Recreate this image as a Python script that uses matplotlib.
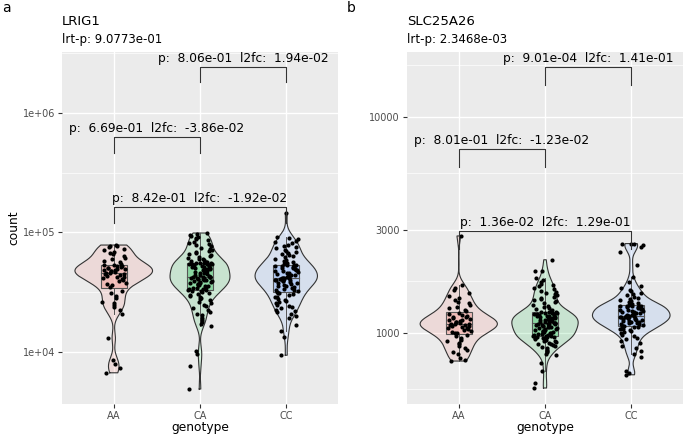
import numpy as np
import matplotlib
matplotlib.use("Agg")
import matplotlib.pyplot as plt
from matplotlib.colors import to_rgba
from matplotlib.patches import Rectangle
from matplotlib.ticker import NullFormatter

genotypes = ["AA", "CA", "CC"]
fills = ["#F8766D", "#00BA38", "#619CFF"]

# LRIG1 counts (thousands)
lrig1_aa = [6.7, 7.3, 7.9, 8.6, 13.1, 20.6, 22.3, 23.8, 24.6, 25.9, 26.4, 28.2, 29.7, 31.3, 32.4,
            35.3, 36.4, 37.2, 38.1, 38.9, 39.8, 40.6, 41.3, 42.1, 42.8, 43.5, 44.0, 44.6, 45.1, 45.5,
            46.2, 46.8, 47.3, 47.9, 48.4, 48.8, 49.3, 49.9, 50.4, 50.9, 51.6, 52.1, 52.7, 53.2, 53.6,
            54.8, 56.3, 57.9, 59.6, 61.4, 63.5, 65.7, 67.2, 68.9, 71.0, 73.4, 75.2, 76.6, 77.8, 78.5]
lrig1_ca = [4.9, 7.7, 9.6, 10.2, 16.4, 17.1, 17.9, 18.6, 19.4, 20.3, 20.9, 21.8, 22.6, 23.5, 24.1,
            24.9, 25.7, 26.3, 27.0, 27.8, 28.4, 29.1, 29.6, 30.2, 30.8, 31.3, 31.7, 32.1, 32.5, 32.8,
            33.1, 33.5, 33.9, 34.2, 34.6, 35.0, 35.4, 35.7, 36.1, 36.5, 36.8, 37.2, 37.6, 38.0, 38.3,
            38.7, 39.1, 39.4, 39.8, 40.1, 40.5, 40.8, 41.1, 41.4, 41.7, 41.9, 42.1, 42.3, 42.4, 42.5,
            42.7, 43.2, 43.7, 44.3, 44.8, 45.4, 45.9, 46.5, 47.0, 47.6, 48.1, 48.7, 49.2, 49.8, 50.3,
            50.9, 51.4, 51.9, 52.4, 52.9, 53.3, 53.7, 54.0, 54.4, 54.7, 55.0, 55.2, 55.4, 55.6, 55.8,
            56.4, 57.1, 57.9, 58.6, 59.5, 60.3, 61.2, 62.4, 63.5, 64.8, 66.1, 67.3, 68.7, 70.2, 71.6,
            73.1, 74.8, 76.5, 78.3, 80.2, 82.1, 84.0, 85.9, 87.8, 89.6, 91.2, 93.0, 95.1, 97.2, 99.0]
lrig1_cc = [9.4, 13.4, 15.0, 16.8, 19.3, 20.1, 20.8, 21.5, 22.1, 22.6, 23.2, 23.8, 24.3, 24.9, 25.6,
            26.2, 26.9, 27.4, 28.0, 28.6, 29.1, 29.8, 30.4, 30.9, 31.3,
            31.7, 32.2, 32.8, 33.3, 33.9, 34.4, 35.0, 35.5, 36.0, 36.6, 37.1, 37.5, 38.0, 38.4, 38.9,
            39.3, 39.7, 40.1, 40.4, 40.7, 40.9, 41.1, 41.3, 41.5, 41.6,
            41.8, 42.3, 42.8, 43.4, 43.9, 44.5, 45.0, 45.6, 46.1, 46.7, 47.2, 47.8, 48.3, 48.9, 49.4,
            50.0, 50.5, 51.0, 51.5, 52.0, 52.4, 52.8, 53.1, 53.4, 53.6,
            54.6, 55.7, 56.9, 58.0, 59.2, 60.5, 61.8, 63.1, 64.4, 65.8, 67.3, 68.8, 70.4, 72.0, 73.7,
            75.5, 77.4, 79.3, 81.3, 83.4, 85.6, 87.7, 89.5, 91.0, 145.0]

# SLC25A26 counts
slc_aa = [741, 752, 768, 795, 812, 834, 851, 868, 884, 901, 917, 932, 948, 963, 979,
          994, 1003, 1013, 1022, 1031, 1040, 1049, 1057, 1065, 1072, 1079, 1085, 1090, 1095, 1099,
          1103, 1110, 1118, 1126, 1134, 1143, 1151, 1160, 1169, 1179, 1189, 1200, 1212, 1225, 1238,
          1258, 1279, 1301, 1323, 1347, 1371, 1396, 1423, 1452, 1489, 1533, 1582, 1621, 1668, 2810]
slc_ca = [556, 586, 663, 725, 788, 801, 813, 826, 837, 848, 858, 867, 876, 884, 892,
          899, 906, 913, 919, 925, 931, 936, 941, 946, 950, 954, 958, 961, 964, 966,
          970, 975, 980, 985, 990, 995, 1000, 1005, 1010, 1015, 1020, 1025, 1030, 1035, 1040,
          1045, 1050, 1055, 1060, 1065, 1070, 1075, 1080, 1085, 1090, 1094, 1098, 1102, 1105, 1108,
          1112, 1117, 1122, 1127, 1132, 1137, 1142, 1147, 1152, 1157, 1162, 1167, 1172, 1177, 1182,
          1187, 1192, 1197, 1202, 1207, 1212, 1217, 1222, 1227, 1231, 1235, 1239, 1243, 1246, 1249,
          1262, 1276, 1291, 1306, 1321, 1337, 1353, 1369, 1385, 1402, 1419, 1436, 1454, 1472, 1491,
          1510, 1530, 1550, 1571, 1593, 1616, 1640, 1665, 1692, 1721, 1753, 1795, 1932, 1941, 2180]
slc_cc = [640, 652, 668, 771, 798, 823, 847, 871, 894, 914, 933, 951, 968, 983, 997,
          1010, 1021, 1031, 1040, 1048, 1055, 1061, 1066, 1071, 1075,
          1080, 1087, 1094, 1101, 1108, 1114, 1120, 1126, 1132, 1138, 1144, 1150, 1156, 1161, 1166,
          1171, 1175, 1179, 1183, 1187, 1190, 1193, 1196, 1198, 1200,
          1204, 1211, 1218, 1225, 1232, 1239, 1246, 1253, 1260, 1267, 1274, 1281, 1288, 1295, 1301,
          1307, 1313, 1318, 1322, 1326, 1329, 1331, 1333, 1335, 1337,
          1346, 1359, 1373, 1388, 1403, 1419, 1436, 1453, 1471, 1490, 1510, 1532, 1556, 1583, 1615,
          1657, 1716, 1820, 2065, 2370, 2490, 2545, 2575, 2580, 2590]

lrig1_tests = ["p:  8.06e-01  l2fc:  1.94e-02", "p:  6.69e-01  l2fc:  -3.86e-02",
               "p:  8.42e-01  l2fc:  -1.92e-02"]
slc_tests = ["p:  9.01e-04  l2fc:  1.41e-01", "p:  8.01e-01  l2fc:  -1.23e-02",
             "p:  1.36e-02  l2fc:  1.29e-01"]


def nrd0(x):
    sd = np.std(x, ddof=1)
    q75, q25 = np.percentile(x, [75, 25])
    return 0.9 * min(sd, (q75 - q25) / 1.34) * len(x) ** -0.2


def draw_groups(ax, groups):
    logs = [np.log10(np.asarray(g, dtype=float)) for g in groups]
    curves = []
    for lg in logs:
        bw = nrd0(lg)
        grid = np.linspace(lg.min(), lg.max(), 512)
        dens = np.exp(-0.5 * ((grid[:, None] - lg[None, :]) / bw) ** 2).sum(1)
        dens /= len(lg) * bw * np.sqrt(2 * np.pi)
        curves.append((grid, dens))
    dmax = max(d.max() for _, d in curves)
    for i, lg in enumerate(logs):
        x0 = i + 1
        grid, dens = curves[i]
        half = 0.45 * dens / dmax
        yy = 10 ** grid
        ax.fill_betweenx(yy, x0 - half, x0 + half, facecolor=to_rgba(fills[i], 0.15),
                         edgecolor="none", zorder=2)
        ax.plot(np.r_[x0 - half, (x0 + half)[::-1], x0 - half[0]],
                np.r_[yy, yy[::-1], yy[0]], color="#333333", lw=0.8, zorder=3)
        q1, med, q3 = np.percentile(lg, [25, 50, 75])
        iqr = q3 - q1
        lo = lg[lg >= q1 - 1.5 * iqr].min()
        hi = lg[lg <= q3 + 1.5 * iqr].max()
        ax.plot([x0, x0], [10 ** q3, 10 ** hi], color="#555555", lw=0.7, zorder=4)
        ax.plot([x0, x0], [10 ** lo, 10 ** q1], color="#555555", lw=0.7, zorder=4)
        ax.add_patch(Rectangle((x0 - 0.15, 10 ** q1), 0.3, 10 ** q3 - 10 ** q1,
                               facecolor=to_rgba(fills[i], 0.3), edgecolor="#555555",
                               lw=0.8, zorder=4))
        ax.plot([x0 - 0.15, x0 + 0.15], [10 ** med, 10 ** med], color="#555555", lw=0.8, zorder=4)
        n = len(lg)
        idx = np.arange(n)
        jit = (np.sin(idx * 12.9898 + x0 * 78.233) * 43758.5453) % 1.0
        ax.scatter(x0 + (jit - 0.5) * 0.28, 10 ** lg, s=9, c="black", linewidths=0, zorder=5)


def bracket(ax, x1, x2, y, leg, text):
    ax.plot([x1, x1, x2, x2], [10 ** leg, 10 ** y, 10 ** y, 10 ** leg],
            color="#333333", lw=0.8, zorder=6)
    ax.annotate(text, xy=((x1 + x2) / 2, 10 ** y), xytext=(0, 1.5),
                textcoords="offset points", ha="center", va="bottom", fontsize=8.8, zorder=7)


def style(ax, ylo, yhi, majors, labels, minors):
    ax.set_facecolor("#EBEBEB")
    for s in ax.spines.values():
        s.set_visible(False)
    ax.set_yscale("log")
    ax.set_ylim(10 ** ylo, 10 ** yhi)
    ax.set_xlim(0.4, 3.6)
    ax.set_xticks([1, 2, 3], genotypes)
    ax.set_yticks(majors, labels)
    ax.set_yticks(minors, minor=True)
    ax.yaxis.set_minor_formatter(NullFormatter())
    ax.tick_params(which="major", length=3, width=0.8, color="#333333",
                   labelcolor="#4D4D4D", labelsize=7, pad=2)
    ax.tick_params(which="minor", length=0)
    ax.grid(which="major", color="white", lw=1.0)
    ax.grid(which="minor", axis="y", color="white", lw=0.5)
    ax.set_axisbelow(True)


fig = plt.figure(figsize=(6.85, 4.37), dpi=100)
W, H = 685, 437
axa = fig.add_axes([62 / W, 1 - 404 / H, 276 / W, 352 / H])
axb = fig.add_axes([407 / W, 1 - 404 / H, 276 / W, 352 / H])

style(axa, 3.565, 6.51, [1e4, 1e5, 1e6], ["1e+04", "1e+05", "1e+06"],
      [10 ** 4.5, 10 ** 5.5, 10 ** 6.5])
style(axb, 2.671, 4.30, [1000, 3000, 10000], ["1000", "3000", "10000"],
      [10 ** 2.739, 10 ** 3.239, 10 ** 3.739, 10 ** 4.239])

draw_groups(axa, [np.array(lrig1_aa) * 1000, np.array(lrig1_ca) * 1000,
                  np.array(lrig1_cc) * 1000])
draw_groups(axb, [slc_aa, slc_ca, slc_cc])

bracket(axa, 2, 3, 6.385, 6.259, lrig1_tests[0])
bracket(axa, 1, 2, 5.799, 5.665, lrig1_tests[1])
bracket(axa, 1, 3, 5.213, 5.079, lrig1_tests[2])
bracket(axb, 2, 3, 4.231, 4.148, slc_tests[0])
bracket(axb, 1, 2, 3.852, 3.768, slc_tests[1])
bracket(axb, 1, 3, 3.472, 3.389, slc_tests[2])

fig.text(62 / W, 1 - 25 / H, "LRIG1", fontsize=9.5, va="baseline")
fig.text(62 / W, 1 - 42.5 / H, "lrt-p: 9.0773e-01", fontsize=8.5, va="baseline")
fig.text(407 / W, 1 - 25 / H, "SLC25A26", fontsize=9.5, va="baseline")
fig.text(407 / W, 1 - 42.5 / H, "lrt-p: 2.3468e-03", fontsize=8.5, va="baseline")
fig.text(2 / W, 1 - 12 / H, "a", fontsize=10, va="baseline")
fig.text(347 / W, 1 - 12.5 / H, "b", fontsize=10, va="baseline")
fig.text(14 / W, 1 - 228 / H, "count", fontsize=8.8, rotation=90, ha="center", va="center")
fig.text(200 / W, 1 - 428 / H, "genotype", fontsize=8.8, ha="center", va="center")
fig.text(545 / W, 1 - 428 / H, "genotype", fontsize=8.8, ha="center", va="center")

fig.savefig("out.png", dpi=100)
